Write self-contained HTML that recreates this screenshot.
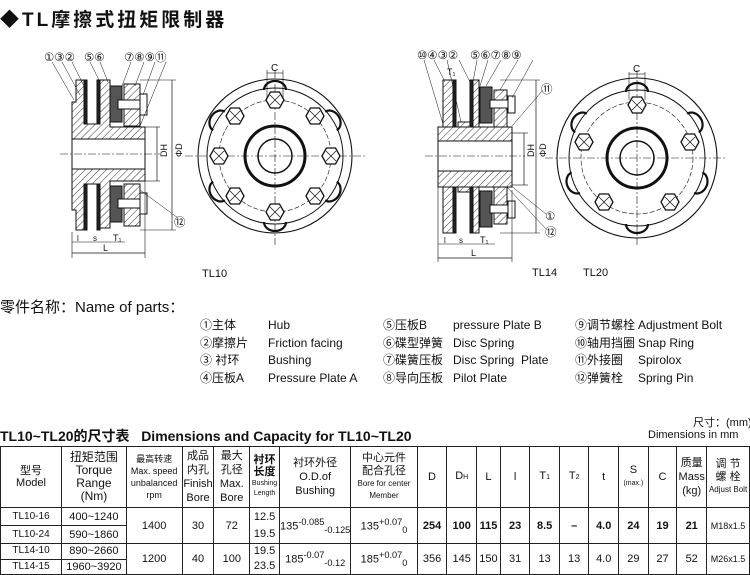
<!DOCTYPE html>
<html><head><meta charset="utf-8"><style>
body{margin:0;width:750px;height:573px;background:#fff;overflow:hidden;position:relative;font-family:"Liberation Sans","Noto Sans CJK SC",sans-serif;color:#111}
.a{position:absolute;white-space:nowrap}
table{position:absolute;left:0;top:446px;border-collapse:collapse;table-layout:fixed;font-size:11px}
td{border:1px solid #222;text-align:center;padding:0;line-height:12px;overflow:hidden}
.p{font-size:12px}
</style></head><body>
<div class="a" style="left:0;top:5px;font-size:19px;font-weight:bold;letter-spacing:3px">◆TL摩擦式扭矩限制器</div>

<svg class="a" style="left:0;top:0" width="750" height="290" viewBox="0 0 750 290">
<defs>
<pattern id="h" width="5" height="5" patternUnits="userSpaceOnUse" patternTransform="rotate(45)"><line x1="0" y1="0" x2="0" y2="5" stroke="#333" stroke-width="1"/></pattern>
<g id="hex"><polygon points="-9,0 -4.5,-8 4.5,-8 9,0 4.5,8 -4.5,8" fill="#fff" stroke="#111" stroke-width="1.3"/><line x1="-5" y1="-5" x2="5" y2="5" stroke="#111" stroke-width=".7"/><line x1="-5" y1="5" x2="5" y2="-5" stroke="#111" stroke-width=".7"/></g>
<g id="lobe"><path d="M-11,0 A11,9 0 0,1 11,0" fill="none" stroke="#111" stroke-width="2.2"/></g>
</defs>
<g font-family="Liberation Sans, DejaVu Sans, sans-serif" font-size="10" fill="#111">
<g stroke="#111" stroke-width="1">
<path d="M72,102 L76,102 L76,80 L84,80 L84,124 L100,124 L100,80 L110,80 L110,127 L145,127 L145,181 L110,181 L110,228 L100,228 L100,184 L84,184 L84,230 L76,230 L76,210 L72,210 Z" fill="url(#h)"/>
<rect x="72" y="139" width="73" height="30" fill="#fff"/>
<line x1="72" y1="139" x2="145" y2="139"/><line x1="72" y1="169" x2="145" y2="169"/>
<rect x="84" y="80" width="3" height="44" fill="#222"/><rect x="84" y="184" width="3" height="46" fill="#222"/>
<rect x="97" y="80" width="3" height="44" fill="#222"/><rect x="97" y="184" width="3" height="46" fill="#222"/>
<rect x="110" y="86" width="12" height="36" fill="#555"/><rect x="110" y="186" width="12" height="36" fill="#555"/>
<rect x="124" y="84" width="16" height="42" fill="url(#h)"/><rect x="124" y="184" width="16" height="42" fill="url(#h)"/>
<rect x="118" y="100" width="22" height="9" fill="#fff"/><rect x="118" y="199" width="22" height="9" fill="#fff"/>
<rect x="140" y="94" width="7" height="21" fill="#fff"/><rect x="140" y="193" width="7" height="21" fill="#fff"/>
<line x1="60" y1="154" x2="160" y2="154" stroke-dasharray="8,2,2,2" stroke-width=".6"/>
<line x1="145" y1="127" x2="160" y2="127" stroke-width=".6"/><line x1="145" y1="181" x2="160" y2="181" stroke-width=".6"/>
<line x1="157" y1="127" x2="157" y2="181" stroke-width=".7"/>
<line x1="140" y1="80" x2="176" y2="80" stroke-width=".6"/><line x1="140" y1="230" x2="176" y2="230" stroke-width=".6"/>
<line x1="172" y1="80" x2="172" y2="230" stroke-width=".7"/>
<line x1="72" y1="232" x2="72" y2="258" stroke-width=".6"/><line x1="145" y1="181" x2="145" y2="258" stroke-width=".6"/>
<line x1="72" y1="253" x2="145" y2="253" stroke-width=".7"/><line x1="72" y1="242" x2="125" y2="242" stroke-width=".6"/>
<g stroke-width=".5"><line x1="52" y1="62" x2="74" y2="100"/><line x1="62" y1="62" x2="80" y2="95"/><line x1="72" y1="62" x2="86" y2="90"/><line x1="90" y1="62" x2="100" y2="82"/><line x1="100" y1="62" x2="108" y2="82"/><line x1="131" y1="62" x2="122" y2="86"/><line x1="144" y1="62" x2="135" y2="86"/><line x1="155" y1="62" x2="143" y2="95"/><line x1="166" y1="62" x2="140" y2="126"/><line x1="140" y1="190" x2="178" y2="218"/></g>
</g>
<g font-size="11.5"><text x="44" y="61">①③②</text><text x="84" y="61">⑤⑥</text><text x="124" y="61">⑦⑧⑨⑪</text><text x="174" y="226">⑫</text></g>
<text x="162" y="162" font-size="9" transform="rotate(-90 162 157)">DH</text>
<text x="177" y="162" font-size="9" transform="rotate(-90 177 157)">ΦD</text>
<text x="77" y="241" font-size="8">l</text><text x="93" y="241" font-size="8">s</text><text x="113" y="241" font-size="9">T₁</text><text x="103" y="251" font-size="9">L</text>
<text x="202" y="277" font-size="11">TL10</text>

<g stroke="#111" fill="none">
<circle cx="275" cy="156" r="77" stroke-width="1.1"/>
<circle cx="275" cy="156" r="68" stroke-width="1"/>
<circle cx="275" cy="156" r="56" stroke-width=".6" stroke-dasharray="5,2"/>
<circle cx="275" cy="156" r="30" stroke-width="3"/>
<circle cx="275" cy="156" r="17" stroke-width="1.5"/>
<line x1="185" y1="156" x2="365" y2="156" stroke-width=".6" stroke-dasharray="8,2,2,2"/>
<line x1="275" y1="70" x2="275" y2="245" stroke-width=".6" stroke-dasharray="8,2,2,2"/>
<line x1="267" y1="70" x2="267" y2="100" stroke-width=".6"/><line x1="283" y1="70" x2="283" y2="100" stroke-width=".6"/><line x1="267" y1="73" x2="283" y2="73" stroke-width=".6"/>
</g>
<g transform="translate(275,156)">
<use href="#hex" x="0" y="-56"/><use href="#hex" x="0" y="56"/><use href="#hex" x="-56" y="0"/><use href="#hex" x="56" y="0"/>
<use href="#hex" x="-40" y="-40"/><use href="#hex" x="40" y="-40"/><use href="#hex" x="-40" y="40"/><use href="#hex" x="40" y="40"/>
<use href="#lobe" transform="translate(0,-66)"/><use href="#lobe" transform="rotate(180) translate(0,-66)"/>
<use href="#lobe" transform="rotate(-58) translate(0,-66)"/><use href="#lobe" transform="rotate(58) translate(0,-66)"/>
<use href="#lobe" transform="rotate(-122) translate(0,-66)"/><use href="#lobe" transform="rotate(122) translate(0,-66)"/>
</g>
<text x="271" y="71" font-size="10">C</text>

<g stroke="#111" stroke-width="1">
<rect x="438" y="127" width="74" height="60" fill="url(#h)"/>
<rect x="438" y="141" width="74" height="30" fill="#fff"/>
<rect x="443" y="80" width="10" height="47" fill="url(#h)"/><rect x="443" y="187" width="10" height="46" fill="url(#h)"/>
<rect x="453" y="80" width="3" height="47" fill="#222"/><rect x="453" y="187" width="3" height="46" fill="#222"/>
<rect x="458" y="122" width="12" height="5" fill="url(#h)"/><rect x="458" y="187" width="12" height="5" fill="url(#h)"/>
<rect x="470" y="80" width="3" height="47" fill="#222"/><rect x="470" y="187" width="3" height="46" fill="#222"/>
<rect x="473" y="80" width="6" height="47" fill="url(#h)"/><rect x="473" y="187" width="6" height="46" fill="url(#h)"/>
<rect x="480" y="87" width="12" height="36" fill="#555"/><rect x="480" y="191" width="12" height="36" fill="#555"/>
<rect x="494" y="90" width="13" height="37" fill="url(#h)"/><rect x="494" y="187" width="13" height="37" fill="url(#h)"/>
<rect x="490" y="100" width="20" height="8" fill="#fff"/><rect x="490" y="205" width="20" height="8" fill="#fff"/>
<rect x="508" y="96" width="7" height="17" fill="#fff"/><rect x="508" y="201" width="7" height="17" fill="#fff"/>
<line x1="425" y1="156" x2="525" y2="156" stroke-dasharray="8,2,2,2" stroke-width=".6"/>
<line x1="512" y1="133" x2="528" y2="133" stroke-width=".6"/><line x1="512" y1="185" x2="528" y2="185" stroke-width=".6"/>
<line x1="524" y1="133" x2="524" y2="185" stroke-width=".7"/>
<line x1="500" y1="80" x2="540" y2="80" stroke-width=".6"/><line x1="500" y1="233" x2="540" y2="233" stroke-width=".6"/>
<line x1="536" y1="80" x2="536" y2="233" stroke-width=".7"/>
<line x1="438" y1="187" x2="438" y2="262" stroke-width=".6"/><line x1="512" y1="190" x2="512" y2="262" stroke-width=".6"/>
<line x1="438" y1="258" x2="512" y2="258" stroke-width=".7"/><line x1="438" y1="244" x2="495" y2="244" stroke-width=".6"/>
<g stroke-width=".5"><line x1="424" y1="60" x2="443" y2="124"/><line x1="434" y1="60" x2="445" y2="82"/><line x1="447" y1="60" x2="461" y2="122"/><line x1="459" y1="60" x2="470" y2="82"/><line x1="477" y1="60" x2="473" y2="82"/><line x1="488" y1="60" x2="480" y2="86"/><line x1="501" y1="60" x2="486" y2="86"/><line x1="518" y1="60" x2="500" y2="90"/><line x1="533" y1="60" x2="512" y2="98"/><line x1="543" y1="90" x2="512" y2="126"/><line x1="510" y1="185" x2="546" y2="214"/><line x1="507" y1="187" x2="546" y2="229"/></g>
</g>
<g font-size="11.5"><text x="417" y="59">⑩④③②</text><text x="470" y="59">⑤⑥⑦⑧⑨</text><text x="541" y="93">⑪</text><text x="545" y="220">①</text><text x="545" y="236">⑫</text></g>
<text x="447" y="75" font-size="9">T₁</text>
<text x="529" y="162" font-size="9" transform="rotate(-90 529 157)">DH</text>
<text x="541" y="162" font-size="9" transform="rotate(-90 541 157)">ΦD</text>
<text x="444" y="243" font-size="8">l</text><text x="459" y="243" font-size="8">s</text><text x="480" y="243" font-size="9">T₁</text><text x="471" y="256" font-size="9">L</text>
<text x="532" y="276" font-size="11">TL14</text><text x="583" y="276" font-size="11">TL20</text>

<g stroke="#111" fill="none">
<circle cx="637" cy="158" r="80" stroke-width="1.1"/>
<circle cx="637" cy="158" r="68" stroke-width="1"/>
<circle cx="637" cy="158" r="56" stroke-width=".6" stroke-dasharray="5,2"/>
<circle cx="637" cy="158" r="30" stroke-width="3"/>
<circle cx="637" cy="158" r="17" stroke-width="1.5"/>
<line x1="545" y1="158" x2="725" y2="158" stroke-width=".6" stroke-dasharray="8,2,2,2"/>
<line x1="637" y1="70" x2="637" y2="245" stroke-width=".6" stroke-dasharray="8,2,2,2"/>
<line x1="629" y1="72" x2="629" y2="100" stroke-width=".6"/><line x1="645" y1="72" x2="645" y2="100" stroke-width=".6"/><line x1="629" y1="74" x2="645" y2="74" stroke-width=".6"/>
</g>
<g transform="translate(637,158)">
<use href="#hex" x="0" y="-53"/><use href="#hex" x="-53" y="-16"/><use href="#hex" x="53" y="-16"/><use href="#hex" x="-33" y="44"/><use href="#hex" x="33" y="44"/>
<use href="#lobe" transform="translate(0,-66)"/><use href="#lobe" transform="rotate(180) translate(0,-66)"/>
<use href="#lobe" transform="rotate(-58) translate(0,-66)"/><use href="#lobe" transform="rotate(58) translate(0,-66)"/>
<use href="#lobe" transform="rotate(-112) translate(0,-66)"/><use href="#lobe" transform="rotate(112) translate(0,-66)"/>
</g>
<text x="633" y="72" font-size="10">C</text>
</g>
</svg>

<div class="a" style="left:0;top:296px;font-size:15px">零件名称：Name of parts：</div>
<div class="a p" style="left:200px;top:317px;line-height:17.7px">①主体<br>②摩擦片<br>③ 衬环<br>④压板A</div>
<div class="a p" style="left:268px;top:317px;line-height:17.7px">Hub<br>Friction facing<br>Bushing<br>Pressure Plate A</div>
<div class="a p" style="left:383px;top:317px;line-height:17.7px">⑤压板B<br>⑥碟型弹簧<br>⑦碟簧压板<br>⑧导向压板</div>
<div class="a p" style="left:453px;top:317px;line-height:17.7px">pressure Plate B<br>Disc Spring<br>Disc Spring &nbsp;Plate<br>Pilot Plate</div>
<div class="a p" style="left:575px;top:317px;line-height:17.7px">⑨调节螺栓<br>⑩轴用挡圈<br>⑪外接圈<br>⑫弹簧栓</div>
<div class="a p" style="left:638px;top:317px;line-height:17.7px">Adjustment Bolt<br>Snap Ring<br>Spirolox<br>Spring Pin</div>

<div class="a" style="left:0;top:426px;font-size:14px;font-weight:bold">TL10~TL20的尺寸表 &nbsp; Dimensions and Capacity for TL10~TL20</div>
<div class="a" style="left:693px;top:414px;font-size:11px">尺寸：(mm)</div>
<div class="a" style="left:648px;top:429px;font-size:11px">Dimensions in mm</div>

<table>
<colgroup><col style="width:62px"><col style="width:65px"><col style="width:56px"><col style="width:32px"><col style="width:36px"><col style="width:30px"><col style="width:66px"><col style="width:67px"><col style="width:30px"><col style="width:30px"><col style="width:24px"><col style="width:30px"><col style="width:30px"><col style="width:30px"><col style="width:30px"><col style="width:30px"><col style="width:29px"><col style="width:30px"><col style="width:43px"></colgroup>
<tr style="height:61px"><td>型号<br>Model</td><td style="font-size:12px;line-height:13px">扭矩范围<br>Torque<br>Range<br>(Nm)</td><td style="font-size:9px">最高转速<br>Max. speed<br>unbalanced<br>rpm</td><td style="line-height:14px">成品<br>内孔<br>Finish<br>Bore</td><td style="line-height:14px">最大<br>孔径<br>Max.<br>Bore</td><td style="font-size:7px;line-height:10px"><b style="font-size:11px">衬环<br>长度</b><br>Bushing<br>Length</td><td style="line-height:14px">衬环外径<br>O.D.of<br>Bushing</td><td style="font-size:8px"><span style="font-size:11px">中心元件<br>配合孔径</span><br>Bore for center<br>Member</td><td>D</td><td>D<span style="font-size:7px">H</span></td><td>L</td><td>l</td><td>T<span style="font-size:7px">1</span></td><td>T<span style="font-size:7px">2</span></td><td>t</td><td>S<br><span style="font-size:7px">(max.)</span></td><td>C</td><td style="line-height:14px">质量<br>Mass<br>(kg)</td><td style="font-size:8px"><span style="font-size:11px">调 节<br>螺 栓</span><br>Adjust Bolt</td></tr>
<tr style="height:18px"><td style="font-size:10px">TL10-16</td><td>400~1240</td><td rowspan="2">1400</td><td rowspan="2">30</td><td rowspan="2">72</td><td rowspan="2" style="line-height:17px">12.5<br>19.5</td><td rowspan="2">135<sup>-0.085</sup><sub>-0.125</sub></td><td rowspan="2">135<sup>+0.07</sup><sub>0</sub></td><td rowspan="2"><b>254</b></td><td rowspan="2"><b>100</b></td><td rowspan="2"><b>115</b></td><td rowspan="2"><b>23</b></td><td rowspan="2"><b>8.5</b></td><td rowspan="2"><b>–</b></td><td rowspan="2"><b>4.0</b></td><td rowspan="2"><b>24</b></td><td rowspan="2"><b>19</b></td><td rowspan="2"><b>21</b></td><td rowspan="2" style="font-size:9px">M18x1.5</td></tr>
<tr style="height:18px"><td style="font-size:10px">TL10-24</td><td>590~1860</td></tr>
<tr style="height:15px"><td style="font-size:10px">TL14-10</td><td>890~2660</td><td rowspan="2">1200</td><td rowspan="2">40</td><td rowspan="2">100</td><td rowspan="2" style="line-height:15px">19.5<br>23.5</td><td rowspan="2">185<sup>-0.07</sup><sub>-0.12</sub></td><td rowspan="2">185<sup>+0.07</sup><sub>0</sub></td><td rowspan="2">356</td><td rowspan="2">145</td><td rowspan="2">150</td><td rowspan="2">31</td><td rowspan="2">13</td><td rowspan="2">13</td><td rowspan="2">4.0</td><td rowspan="2">29</td><td rowspan="2">27</td><td rowspan="2">52</td><td rowspan="2" style="font-size:9px">M26x1.5</td></tr>
<tr style="height:15px"><td style="font-size:10px">TL14-15</td><td>1960~3920</td></tr>
</table>
</body></html>
